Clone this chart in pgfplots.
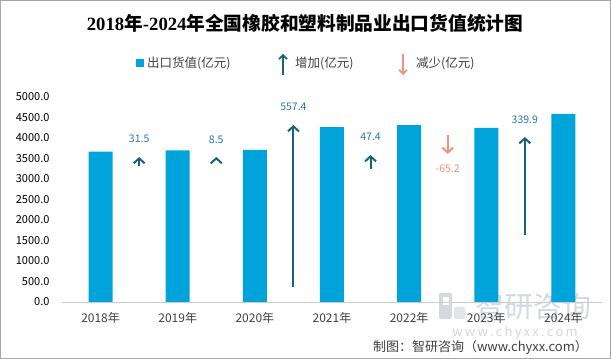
\documentclass[border=0pt]{standalone}
\usepackage{fontspec}
\setmainfont{Noto Sans CJK SC}
\newfontfamily\serifnum{Liberation Serif}
\usepackage{pgfplots}
\pgfplotsset{compat=1.18}
\usetikzlibrary{arrows.meta}
\definecolor{barblue}{RGB}{0,163,218}
\definecolor{uparrow}{RGB}{28,96,128}
\definecolor{uplabel}{RGB}{38,118,168}
\definecolor{down}{RGB}{240,145,120}
\definecolor{txt}{RGB}{64,64,64}
\definecolor{wm}{RGB}{212,216,223}
\begin{document}
\begin{tikzpicture}[x=1pt,y=1pt]
\useasboundingbox (0,0) rectangle (611,359);
% watermark
\fill[wm, rounded corners=2pt] (439,40) rectangle (452,66);
\fill[wm!70, rounded corners=2pt] (454,40) rectangle (465,52);
\fill[white] (443,54) rectangle (449,62);
\node[text=wm, font=\fontsize{29}{30}\selectfont, anchor=center] at (533,52) {智研咨询};
\node[text=wm, font=\fontsize{13}{14}\selectfont, anchor=center] at (515,26) {w\,w\,w\,.\,c\,h\,y\,x\,x\,.\,c\,o\,m};
% title
\node[font=\fontsize{18.7}{20}\selectfont\bfseries, anchor=center] at (305,336) {{\serifnum\bfseries 2018}年{\serifnum\bfseries -2024}年全国橡胶和塑料制品业出口货值统计图};
% legend
\fill[barblue] (136,292) rectangle (144,300);
\node[text=txt, font=\fontsize{12.5}{13}\selectfont, anchor=west, inner sep=0pt] at (147,296) {出口货值(亿元)};
\draw[uparrow, line width=1.6pt, -{Straight Barb[length=4pt,width=8pt]}] (283,284) -- (283,305);
\node[text=txt, font=\fontsize{12.5}{13}\selectfont, anchor=west, inner sep=0pt] at (295,296) {增加(亿元)};
\draw[down, line width=1.6pt, -{Straight Barb[length=4pt,width=8pt]}] (403,305) -- (403,284);
\node[text=txt, font=\fontsize{12.5}{13}\selectfont, anchor=west, inner sep=0pt] at (416,296) {减少(亿元)};
% source
\node[text=txt, font=\fontsize{13}{14}\selectfont, anchor=east, inner sep=0pt] at (588,12) {制图：智研咨询（www.chyxx.com）};
\begin{axis}[
  at={(62pt,57pt)}, anchor=south west,
  scale only axis, width=540pt, height=205pt,
  xmin=-0.5, xmax=6.5, ymin=0, ymax=5000,
  clip=false,
  separate axis lines,
  axis x line*=bottom, axis y line*=left,
  x axis line style={draw=black!20, line width=0.8pt, -},
  y axis line style={draw=none},
  xtick={0,...,6},
  xticklabels={2018年,2019年,2020年,2021年,2022年,2023年,2024年},
  ytick={0,500,...,5000},
  major tick length=0pt,
  scaled y ticks=false,
  yticklabel style={font=\fontsize{11}{12}\selectfont, text=black, xshift=-9pt,
    /pgf/number format/.cd, fixed, fixed zerofill, precision=1, 1000 sep={}, assume math mode=true},
  xticklabel style={font=\fontsize{12}{13}\selectfont, text=txt, yshift=-7pt},
]
\addplot[ybar, bar width=24pt, fill=barblue, draw=none] coordinates {
  (0,3667.6) (1,3699.1) (2,3707.6) (3,4265.0) (4,4312.4) (5,4247.2) (6,4587.1)};
\addplot[uparrow, line width=2pt, quiver={u=\thisrow{u},v=\thisrow{v}},
  -{Straight Barb[length=5pt,width=11pt]}] table {
x y u v
0.5 3314 0 223
1.5 3477 0 60
2.5 366 0 3951
3.5 3250 0 335
5.5 1634 0 2390
};
\addplot[down, line width=2pt, quiver={u=\thisrow{u},v=\thisrow{v}},
  -{Straight Barb[length=5pt,width=11pt]}] table {
x y u v
4.5 4073 0 -461
};
\addplot[draw=none, nodes near coords, point meta=explicit symbolic,
  every node near coord/.append style={anchor=center, text=uplabel, font=\fontsize{10.5}{11}\selectfont}]
  table[meta=lab] {
x y lab
0.5 3976 31.5
1.5 3951 8.5
2.5 4756 557.4
3.5 4024 47.4
5.5 4439 339.9
};
\addplot[draw=none, nodes near coords, point meta=explicit symbolic,
  every node near coord/.append style={anchor=center, text=down, font=\fontsize{10.5}{11}\selectfont}]
  table[meta=lab] {
x y lab
4.5 3244 -65.2
};
\end{axis}
\draw[black!35, line width=1pt] (0.5,0.5) rectangle (610.5,358.5);
\end{tikzpicture}
\end{document}
